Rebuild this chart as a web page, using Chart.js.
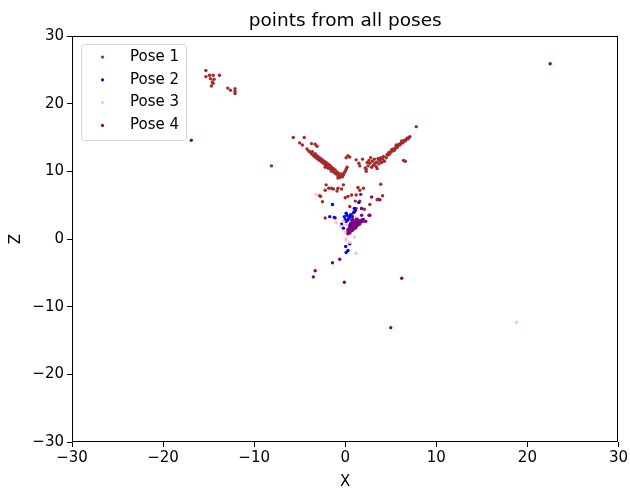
<!DOCTYPE html>
<html>
<head>
<meta charset="utf-8">
<script src="https://cdn.jsdelivr.net/npm/chart.js@4/dist/chart.umd.min.js"></script>
<style>
  body { margin: 0; background: #fff; }
  canvas { display: block; }
</style>
</head>
<body>
<canvas id="scatterChart" width="630" height="493"></canvas>
<script>
// point data, [x, z]
var pose1 = [
    [-15.3, 24.9], [-15.3, 24.0], [-14.9, 24.2], [-14.5, 24.2], [-13.8, 24.2], [-14.8, 23.7],
    [-14.4, 23.6], [-14.6, 23.2], [-14.5, 23.0], [-14.7, 22.6], [-12.9, 22.3], [-12.6, 22.0],
    [-12.1, 22.2], [-12.1, 21.8], [-12.1, 21.5], [-8.1, 10.8],
    [-5.7, 15.0], [-4.5, 15.0], [-5.0, 14.2], [-4.7, 13.9], [-3.7, 14.1], [-3.3, 14.0],
    [-3.1, 13.7], [-4.0, 13.0], [-4.2, 13.3],
    [-3.9, 12.9], [-3.7, 12.6], [-3.6, 12.9], [-3.5, 12.4], [-3.4, 12.2], [-3.3, 12.6],
    [-3.2, 12.0], [-3.1, 12.3], [-3.0, 11.8], [-2.9, 12.1], [-2.8, 11.6], [-2.7, 11.9],
    [-2.6, 11.4], [-2.5, 11.7], [-2.4, 11.2], [-2.3, 11.5], [-2.2, 11.0], [-2.1, 11.3],
    [-2.0, 10.8], [-1.9, 11.1], [-1.8, 10.5], [-1.7, 10.9], [-1.6, 10.3], [-1.5, 10.6],
    [-1.4, 10.1], [-1.3, 10.4], [-1.2, 9.8], [-1.1, 10.2], [-1.0, 9.6], [-0.9, 9.9],
    [-0.8, 9.3], [-0.7, 9.7], [-0.6, 9.1], [-0.5, 9.4], [-0.4, 9.6], [-0.3, 9.2],
    [-0.2, 9.5], [-0.1, 9.8], [0.0, 10.0], [0.1, 10.3], [0.2, 10.6], [-2.2, 10.6],
    [-1.5, 10.0], [-0.8, 9.0], [-1.9, 10.5],
    [0.3, 12.3], [0.1, 12.0], [0.5, 12.1], [1.2, 11.7], [1.5, 11.2], [1.9, 11.8],
    [2.2, 10.5], [2.3, 10.0], [1.6, 10.8],
    [2.3, 10.3], [2.5, 10.8], [2.7, 11.2], [2.9, 10.6], [3.0, 11.5], [3.1, 10.9],
    [3.2, 11.8], [3.3, 11.2], [3.4, 10.7], [3.5, 11.4], [3.6, 11.9], [3.7, 11.1],
    [3.8, 11.6], [3.9, 12.0], [4.0, 11.3], [4.1, 11.8], [4.2, 12.2], [4.3, 11.5],
    [2.6, 11.6], [2.8, 12.0], [3.5, 10.4], [2.4, 11.3], [4.5, 12.0], [4.6, 12.5],
    [4.7, 12.4], [4.9, 12.6], [5.0, 12.9], [5.2, 13.0], [5.3, 13.3], [5.5, 13.4],
    [5.6, 13.7], [5.8, 13.8], [5.9, 14.0], [6.1, 14.1], [6.2, 14.3], [6.4, 14.4],
    [6.5, 14.6], [6.7, 14.7], [6.8, 14.9], [7.0, 15.0], [5.1, 13.2], [5.4, 13.1],
    [5.7, 13.5], [6.0, 13.9], [6.3, 14.2], [6.6, 14.5], [6.9, 14.8], [7.1, 15.1],
    [4.8, 12.8], [5.6, 13.9], [6.2, 14.5], [7.8, 16.6], [6.6, 11.5], [6.4, 11.6],
    [-2.1, 8.0], [-1.5, 7.5], [-2.2, 7.2], [-0.8, 7.5], [-0.2, 8.0], [-1.8, 7.5],
    [-1.3, 7.4], [-0.9, 7.1], [-0.4, 7.4], [-2.7, 6.3], [-2.8, 6.4], [-2.5, 5.5],
    [0.0, 6.1], [0.3, 6.3], [0.7, 6.5], [1.4, 7.6], [1.6, 7.2], [2.0, 7.5],
    [3.9, 8.1], [1.1, 5.6], [1.6, 5.6], [2.7, 5.1], [3.6, 5.9], [4.1, 6.4],
    [3.5, 5.8], [1.2, 6.5], [1.2, 4.5], [1.8, 4.5], [2.1, 4.4], [2.6, 3.5],
    [-2.2, 3.1], [-1.1, 3.1], [0.5, 4.8], [0.7, 3.5], [1.2, 2.5], [1.0, 1.8]
];

var pose2 = [
    [-1.4, 5.1], [1.5, 5.4], [1.0, 4.5], [1.0, 4.0], [1.1, 4.2], [-1.7, 3.3],
    [-1.2, 3.2], [0.1, 3.8], [0.5, 3.3], [0.3, 2.8], [0.0, 2.9], [0.7, 2.3],
    [0.4, 3.1], [0.1, 2.6], [0.9, 2.3], [-0.2, 1.6], [0.2, 3.5], [0.6, 3.6],
    [0.8, 2.9], [-0.1, 3.3], [0.5, 2.0], [0.05, -1.1], [0.3, -1.7], [0.1, -2.0],
    [0.5, -0.7], [0.2, 1.0], [0.6, 1.4], [-0.4, 2.2], [1.3, 3.0], [0.9, 3.9]
];

var pose3 = [
    [-3.2, 6.6], [18.8, -12.3], [1.15, -2.1], [0.1, 0.0], [0.3, 0.6], [0.5, -0.5],
    [0.1, -0.15], [1.0, 0.3], [0.1, 2.1], [-0.2, 2.6], [-1.0, 2.4], [0.4, 1.2],
    [0.0, 1.0], [0.6, 0.9], [-0.5, 1.9], [1.2, 3.2], [0.8, 1.6]
];

var pose4 = [
    [-16.9, 14.6], [22.5, 25.9], [-1.4, -3.5], [-0.6, -3.0], [-3.3, -4.7], [-3.5, -5.6],
    [-0.1, -6.4], [6.2, -5.8], [5.0, -13.1], [2.9, 6.2], [3.8, 5.8], [1.7, 6.6],
    [1.8, 4.5], [2.7, 3.5], [1.8, 3.5], [2.25, 2.6],
    [0.3, 0.8], [0.4, 1.1], [0.5, 0.9], [0.5, 1.3], [0.6, 1.2], [0.6, 1.6],
    [0.7, 1.4], [0.8, 1.7], [0.8, 1.3], [0.9, 1.9], [0.9, 1.5], [1.0, 1.8],
    [1.0, 2.1], [1.1, 1.6], [1.1, 2.0], [1.2, 2.2], [1.2, 1.8], [1.3, 2.0],
    [1.3, 2.4], [1.4, 2.1], [1.4, 2.5], [1.5, 2.3], [1.5, 2.7], [1.6, 2.2],
    [1.6, 2.6], [1.7, 2.5], [1.8, 2.8], [1.9, 2.6], [2.0, 2.9], [0.4, 1.5],
    [0.7, 2.0], [0.3, 1.4], [0.8, 2.5], [0.7, 2.8], [0.8, 3.3], [1.1, 2.6],
    [0.5, 1.7], [0.6, 2.3], [0.9, 2.2], [1.2, 2.9]
];

var poseLabels = ['Pose 1', 'Pose 2', 'Pose 3', 'Pose 4'];
var poseColors = ['#a52a2a', '#0000ff', '#ffc0cb', '#800080'];
var axisTicks = [-30, -20, -10, 0, 10, 20, 30];
var chartTitle = 'points from all poses';

var fontFamily = '"DejaVu Sans", sans-serif';
// where the axes box sits in the reference
var target = { left: 72, top: 36, right: 619, bottom: 442 };

function toPoints(list) {
    return list.map(function(p) { return { x: p[0], y: p[1] }; });
}

function minusSign(v) {
    return String(v).replace('-', '\u2212');
}

// matplotlib style closed box around the axes, plus the title above it
var boxPlugin = {
    id: 'axesBox',
    afterDatasetsDraw: function(chart) {
        var a = chart.chartArea;
        var ctx = chart.ctx;
        var l = Math.round(a.left) + 0.5, t = Math.round(a.top) + 0.5;
        var r = Math.round(a.right) - 0.5, b = Math.round(a.bottom) - 0.5;
        ctx.save();
        ctx.strokeStyle = '#000';
        ctx.lineWidth = 1;
        ctx.strokeRect(l, t, r - l, b - t);

        ctx.fillStyle = '#000';
        ctx.font = '18.5px ' + fontFamily;
        ctx.textAlign = 'center';
        ctx.textBaseline = 'middle';
        ctx.fillText(chartTitle, (a.left + a.right) / 2, a.top - 15);
        ctx.restore();
    }
};

// legend inside the axes, upper left
var legendPlugin = {
    id: 'innerLegend',
    afterDraw: function(chart) {
        var ctx = chart.ctx;
        var a = chart.chartArea;
        var x0 = a.left + 9.5, y0 = a.top + 8.5, w = 105, h = 96, r = 3;
        ctx.save();
        ctx.beginPath();
        ctx.moveTo(x0 + r, y0);
        ctx.arcTo(x0 + w, y0, x0 + w, y0 + h, r);
        ctx.arcTo(x0 + w, y0 + h, x0, y0 + h, r);
        ctx.arcTo(x0, y0 + h, x0, y0, r);
        ctx.arcTo(x0, y0, x0 + w, y0, r);
        ctx.closePath();
        ctx.fillStyle = 'rgba(255,255,255,0.8)';
        ctx.fill();
        ctx.strokeStyle = '#d6d6d6';
        ctx.lineWidth = 1;
        ctx.stroke();

        ctx.font = '15px ' + fontFamily;
        ctx.textBaseline = 'middle';
        ctx.textAlign = 'left';
        for (var i = 0; i < poseLabels.length; i++) {
            var cy = a.top + 21 + i * 22.8;
            ctx.beginPath();
            ctx.arc(a.left + 30.5, cy, 1.6, 0, Math.PI * 2);
            ctx.fillStyle = poseColors[i];
            ctx.fill();
            ctx.fillStyle = '#000';
            ctx.fillText(poseLabels[i], a.left + 58, cy);
        }
        ctx.restore();
    }
};

var poses = [pose1, pose2, pose3, pose4];
var datasets = poses.map(function(list, i) {
    return {
        label: poseLabels[i],
        data: toPoints(list),
        backgroundColor: poseColors[i],
        borderWidth: 0,
        pointRadius: 1.7,
        order: poses.length - i   // later poses drawn on top
    };
});

var ctx = document.getElementById('scatterChart').getContext('2d');
var chart = new Chart(ctx, {
    type: 'scatter',
    data: { datasets: datasets },
    options: {
        responsive: false,
        animation: false,
        devicePixelRatio: 1,
        layout: { padding: { left: 0, top: 36, right: 11, bottom: 0 } },
        plugins: {
            legend: { display: false },
            tooltip: { enabled: false },
            title: { display: false }
        },
        scales: {
            x: {
                type: 'linear',
                min: -30,
                max: 30,
                afterBuildTicks: function(scale) {
                    scale.ticks = axisTicks.map(function(v) { return { value: v }; });
                },
                afterFit: function(scale) { scale.height = 51; },
                grid: { drawOnChartArea: false, drawTicks: true, tickLength: 5, tickColor: '#000' },
                border: { display: false },
                ticks: {
                    color: '#000',
                    padding: 2,
                    maxRotation: 0,
                    font: { family: fontFamily, size: 15 },
                    callback: function(v) { return minusSign(v); }
                },
                title: {
                    display: true,
                    text: 'X',
                    color: '#000',
                    font: { family: fontFamily, size: 15 },
                    padding: { top: 0, bottom: 2 }
                }
            },
            y: {
                type: 'linear',
                min: -30,
                max: 30,
                afterBuildTicks: function(scale) {
                    scale.ticks = axisTicks.map(function(v) { return { value: v }; });
                },
                afterFit: function(scale) { scale.width = 72; },
                grid: { drawOnChartArea: false, drawTicks: true, tickLength: 5, tickColor: '#000' },
                border: { display: false },
                ticks: {
                    color: '#000',
                    padding: 3,
                    font: { family: fontFamily, size: 15 },
                    callback: function(v) { return minusSign(v); }
                },
                title: {
                    display: true,
                    text: 'Z',
                    color: '#000',
                    font: { family: fontFamily, size: 15 },
                    padding: { top: 7, bottom: 0 }
                }
            }
        }
    },
    plugins: [boxPlugin, legendPlugin]
});

// nudge the layout padding so the axes box lands where the reference has it
for (var pass = 0; pass < 3; pass++) {
    var area = chart.chartArea;
    var pad = chart.options.layout.padding;
    pad.top += target.top - area.top;
    pad.left += target.left - area.left;
    pad.right += area.right - target.right;
    pad.bottom += area.bottom - target.bottom;
    chart.update();
}
</script>
</body>
</html>
